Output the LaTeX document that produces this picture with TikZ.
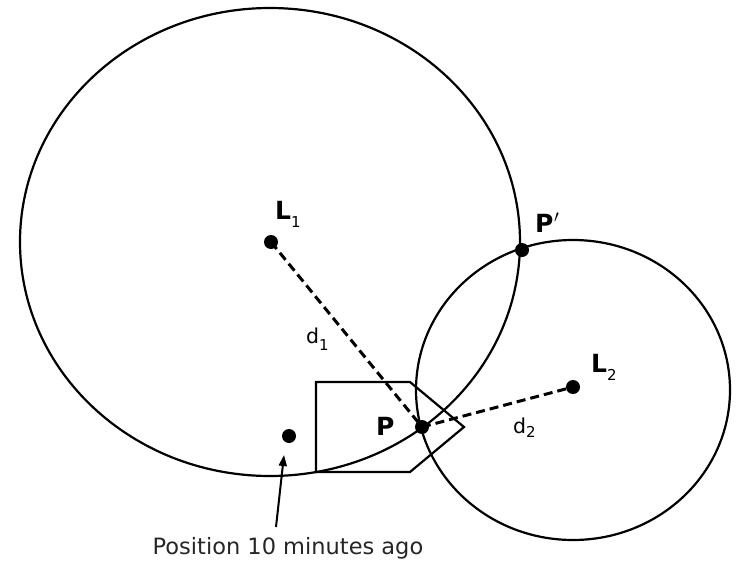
\documentclass[tikz,border=0pt]{standalone}
\usepackage{fontspec}
\setmainfont{DejaVu Sans}
\usetikzlibrary{arrows.meta}
\newcommand{\mysub}[2][7pt]{\raisebox{-#1}{\fontsize{15}{15}\selectfont\mdseries #2}}
\begin{document}
\begin{tikzpicture}[x=1pt,y=-1pt,
  dot/.style={circle,fill,inner sep=0pt,minimum size=14pt},
  blbl/.style={font=\fontsize{25}{28}\selectfont\bfseries,inner sep=0pt,anchor=base west},
  dlbl/.style={font=\fontsize{20.5}{24}\selectfont,inner sep=0pt,anchor=base west},
  ring/.style={line width=2.2pt},
  dist/.style={line width=3pt,dash pattern=on 9pt off 5pt},
  pointer/.style={line width=2pt,-{Triangle[length=11pt,width=8pt]}}]
\useasboundingbox (0,0) rectangle (737,565);
\draw[ring] (270,242) ellipse [x radius=250, y radius=234];
\draw[ring] (573,390) ellipse [x radius=157, y radius=150];
\draw[ring] (316,382) -- (410,382) -- (464,427) -- (410,472) -- (316,472) -- cycle;
\node[dot] (L1) at (271,242) {};
\node[dot] (L2) at (573,387) {};
\node[dot] (P) at (422,427) {};
\node[dot] (Pp) at (522,250) {};
\node[dot] (old) at (289,436) {};
\draw[dist] (L1.center) -- (P.center);
\draw[dist] (P.center) -- (L2.center);
\node[blbl] (tL1) at (275,219) {L\mysub[8pt]{1}};
\node[blbl] (tL2) at (591,372) {L\mysub[8pt]{2}};
\node[blbl] (tP) at (376,435) {P};
\node[blbl] (tPp) at (535,232) {P\kern0.5pt$'$};
\node[dlbl] (td1) at (306,343) {d\mysub[7pt]{1}};
\node[dlbl] (td2) at (513,433) {d\mysub[4pt]{2}};
\node[font=\fontsize{22.5}{26}\selectfont,inner sep=0pt,text=black!85] (cap) at (288,548) {Position 10 minutes ago};
\coordinate (tail) at (276,527);
\coordinate (tip) at (284,455);
\draw[pointer] (tail) -- (tip);
\end{tikzpicture}
\end{document}
